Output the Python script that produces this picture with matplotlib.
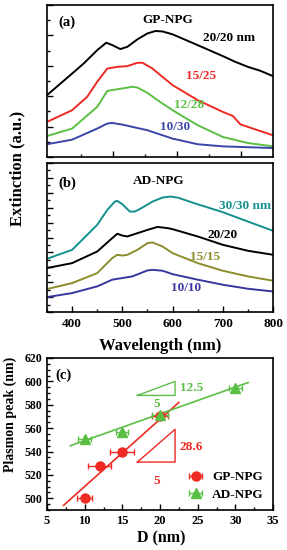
import numpy as np
import matplotlib
matplotlib.use("Agg")
import matplotlib.pyplot as plt
from matplotlib.ticker import MultipleLocator, FixedLocator

plt.rcParams['font.family'] = ['Liberation Serif', 'DejaVu Serif']
plt.rcParams['font.weight'] = 'bold'
plt.rcParams['axes.linewidth'] = 1.2

# ------------------------------
# Datos (a) GP-NPG
# ------------------------------
wl_a_black = [350, 400, 423, 450, 468, 480, 496, 510, 530, 550, 566, 580, 600, 650, 700, 725, 750, 775, 800]
ext_a_black = [4.07, 5.49, 6.15, 7.03, 7.52, 7.36, 7.10, 7.25, 7.74, 8.13, 8.29, 8.26, 8.07, 7.36, 6.64, 6.26, 5.93, 5.67, 5.32]
wl_a_red = [350, 400, 430, 450, 470, 490, 510, 530, 540, 560, 580, 600, 650, 700, 720, 735, 760, 800]
ext_a_red = [2.31, 3.08, 3.96, 4.95, 5.82, 5.93, 5.98, 6.20, 6.20, 5.82, 5.27, 4.73, 3.74, 2.97, 2.70, 2.15, 1.87, 1.43]
wl_a_green = [350, 400, 450, 470, 500, 520, 530, 550, 570, 600, 650, 700, 750, 800]
ext_a_green = [1.38, 1.87, 3.30, 4.35, 4.51, 4.62, 4.57, 4.22, 3.74, 3.08, 2.09, 1.32, 0.92, 0.70]
wl_a_blue = [350, 400, 450, 470, 480, 500, 550, 600, 650, 700, 800]
ext_a_blue = [0.84, 1.14, 1.87, 2.20, 2.24, 2.13, 1.76, 1.21, 0.84, 0.70, 0.59]

# ------------------------------
# Datos (b) AD-NPG
# ------------------------------
wl_b_teal = [350, 400, 450, 470, 485, 490, 500, 515, 525, 540, 560, 580, 595, 610, 650, 700, 750, 800]
ext_b_teal = [3.57, 4.17, 5.85, 6.85, 7.41, 7.46, 7.23, 6.74, 6.74, 7.01, 7.41, 7.68, 7.75, 7.68, 7.23, 6.70, 6.07, 5.45]
wl_b_black = [350, 400, 450, 480, 490, 500, 510, 520, 550, 570, 590, 600, 650, 700, 750, 800]
ext_b_black = [2.95, 3.28, 4.06, 4.96, 5.25, 5.13, 5.07, 5.18, 5.51, 5.71, 5.63, 5.56, 5.07, 4.51, 4.11, 3.84]
wl_b_olive = [350, 400, 450, 480, 490, 500, 510, 530, 550, 560, 580, 600, 650, 700, 750, 800]
ext_b_olive = [1.54, 1.94, 2.61, 3.62, 3.84, 3.79, 3.84, 4.17, 4.62, 4.67, 4.40, 3.95, 3.28, 2.77, 2.39, 2.10]
wl_b_blue = [350, 400, 450, 480, 500, 520, 550, 560, 580, 600, 650, 700, 750, 800]
ext_b_blue = [1.00, 1.27, 1.72, 2.17, 2.28, 2.39, 2.79, 2.83, 2.77, 2.54, 2.17, 1.83, 1.56, 1.38]

# ------------------------------
# Datos (c) pico plasmon
# ------------------------------
gp_d = [10, 12, 15, 20]
gp_peak = [500, 528, 540, 570]
gp_err = [1.0, 1.5, 1.6, 1.0]
ad_d = [10, 15, 20, 30]
ad_peak = [551, 557, 571, 594]
ad_err = [0.9, 0.8, 1.0, 0.9]
gp_fit_x = [7.2, 22.5]
gp_fit_y = [494, 582]
ad_fit_x = [8.1, 31.7]
ad_fit_y = [545, 599]

red = '#ee2a24'
green = '#5cbf45'
blue = '#3a46a8'
teal = '#14918f'
olive = '#8c8c2c'
indigo = '#3a36a0'

fig = plt.figure(figsize=(2.87, 5.5), dpi=100)
L, W = 47 / 287, 226 / 287
ax_a = fig.add_axes([L, 1 - 157 / 550, W, 152 / 550])
ax_b = fig.add_axes([L, 1 - 312 / 550, W, 149 / 550])
ax_c = fig.add_axes([L, 1 - 510 / 550, W, 152 / 550])

lw = 1.4
ax_a.plot(wl_a_black, ext_a_black, color='black', lw=lw)
ax_a.plot(wl_a_red, ext_a_red, color=red, lw=lw)
ax_a.plot(wl_a_green, ext_a_green, color=green, lw=lw)
ax_a.plot(wl_a_blue, ext_a_blue, color=blue, lw=lw)

ax_b.plot(wl_b_teal, ext_b_teal, color=teal, lw=lw)
ax_b.plot(wl_b_black, ext_b_black, color='black', lw=lw)
ax_b.plot(wl_b_olive, ext_b_olive, color=olive, lw=lw)
ax_b.plot(wl_b_blue, ext_b_blue, color=indigo, lw=lw)

for ax in (ax_a, ax_b):
    ax.set_xlim(350, 800)
    ax.set_ylim(0, 10)
    ax.tick_params(direction='in', which='both', top=False, right=False)
    ax.tick_params(which='major', length=4, width=1)
    ax.tick_params(which='minor', length=2, width=1)
    ax.set_yticklabels([])

ax_a.yaxis.set_major_locator(MultipleLocator(2))
ax_a.yaxis.set_minor_locator(MultipleLocator(1))
ax_a.xaxis.set_major_locator(FixedLocator([481, 609, 737]))
ax_a.xaxis.set_minor_locator(FixedLocator([417, 545, 673]))
ax_a.set_xticklabels([])

ax_b.yaxis.set_major_locator(MultipleLocator(1))
ax_b.yaxis.set_minor_locator(MultipleLocator(0.5))
ax_b.xaxis.set_major_locator(MultipleLocator(100))
ax_b.xaxis.set_minor_locator(MultipleLocator(50))
ax_b.tick_params(axis='x', labelsize=9.5, pad=4)

fs = 9.5
ax_a.text(0.05, 0.86, '(a)', transform=ax_a.transAxes, fontsize=10.5)
ax_a.text(0.42, 0.88, 'GP-NPG', transform=ax_a.transAxes, fontsize=fs)
ax_a.text(712, 7.65, '20/20 nm', color='black', fontsize=fs, ha='center')
ax_a.text(657, 5.15, '15/25', color=red, fontsize=fs, ha='center')
ax_a.text(632, 3.2, '12/28', color=green, fontsize=fs, ha='center')
ax_a.text(605, 1.8, '10/30', color=blue, fontsize=fs, ha='center')

ax_b.text(0.05, 0.84, '(b)', transform=ax_b.transAxes, fontsize=10.5)
ax_b.text(0.38, 0.86, 'AD-NPG', transform=ax_b.transAxes, fontsize=fs)
ax_b.text(745, 6.9, '30/30 nm', color=teal, fontsize=fs, ha='center')
ax_b.text(700, 4.95, '20/20', color='black', fontsize=fs, ha='center')
ax_b.text(665, 3.5, '15/15', color=olive, fontsize=fs, ha='center')
ax_b.text(627, 1.4, '10/10', color=indigo, fontsize=fs, ha='center')

fig.text(17 / 287, 1 - 168 / 550, 'Extinction (a.u.)', rotation=90, fontsize=12,
         ha='center', va='center')
fig.text(160 / 287, 1 - 346 / 550, 'Wavelength (nm)', fontsize=12, ha='center', va='center')

# ------------------------------
# Panel (c)
# ------------------------------
ax_c.plot(gp_fit_x, gp_fit_y, color=red, lw=1.2)
ax_c.plot(ad_fit_x, ad_fit_y, color=green, lw=1.2)
ax_c.errorbar(gp_d, gp_peak, xerr=gp_err, fmt='o', color=red, ms=6.5, capsize=2,
              elinewidth=1, label='GP-NPG')
ax_c.errorbar(ad_d, ad_peak, xerr=ad_err, fmt='^', color=green, ms=6.5, capsize=2,
              elinewidth=1, label='AD-NPG')

# triangulos de pendiente
ax_c.plot([17, 22, 22, 17], [588, 588, 600, 588], color=green, lw=1)
ax_c.plot([17, 22, 22, 17], [531, 531, 559, 531], color=red, lw=1)
ax_c.text(22.6, 594, '12.5', color=green, fontsize=fs, va='center')
ax_c.text(19.5, 581, '5', color=green, fontsize=fs, ha='center', va='center')
ax_c.text(22.6, 544, '28.6', color=red, fontsize=fs, va='center')
ax_c.text(19.5, 515, '5', color=red, fontsize=fs, ha='center', va='center')
ax_c.text(6.1, 605, '(c)', fontsize=10.5, va='center')

ax_c.set_xlim(5, 35)
ax_c.set_ylim(490, 620)
ax_c.xaxis.set_major_locator(MultipleLocator(5))
ax_c.xaxis.set_minor_locator(MultipleLocator(2.5))
ax_c.yaxis.set_minor_locator(MultipleLocator(5))
ax_c.set_yticks([500, 520, 540, 560, 580, 600, 620])
ax_c.tick_params(direction='in', which='both', top=False, right=False)
ax_c.tick_params(which='major', length=4, width=1, labelsize=9)
ax_c.tick_params(which='minor', length=2, width=1)
ax_c.tick_params(axis='y', labelsize=8.5)

ax_c.legend(loc='lower right', frameon=False, fontsize=fs, handletextpad=0.5,
            borderaxespad=0.3, labelspacing=0.4, handlelength=1.5)

fig.text(10 / 287, 1 - 414 / 550, 'Plasmon peak (nm)', rotation=90, fontsize=10,
         ha='center', va='center')
fig.text(161 / 287, 1 - 538 / 550, 'D (nm)', fontsize=11.5, ha='center', va='center')

plt.savefig('out.png', dpi=100)
